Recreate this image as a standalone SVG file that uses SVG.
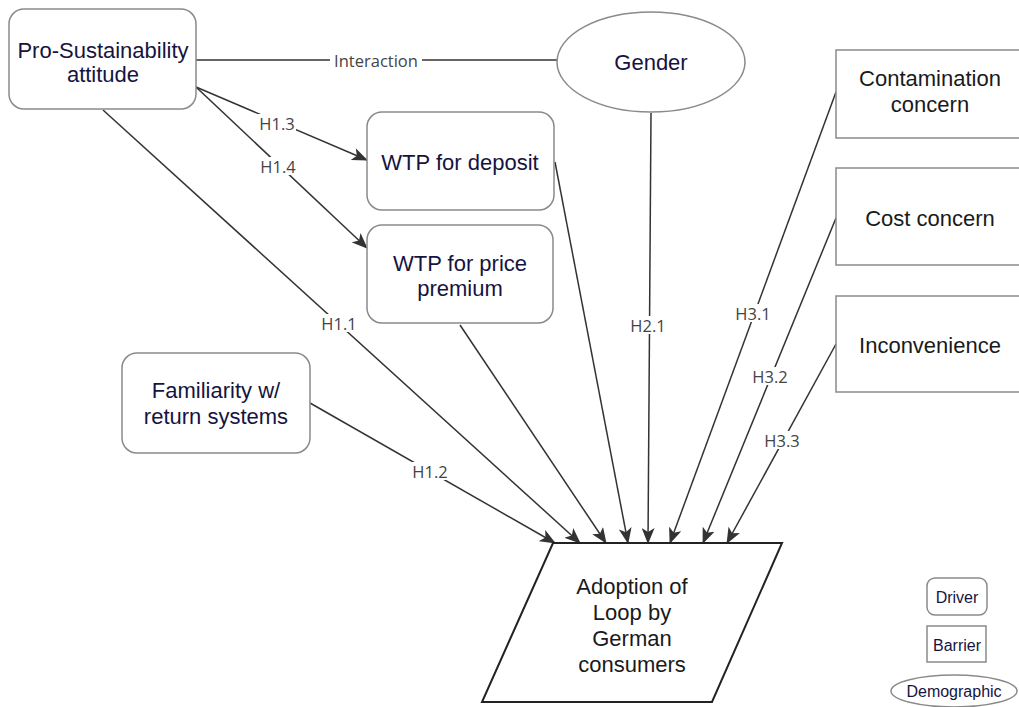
<svg xmlns="http://www.w3.org/2000/svg" width="1019" height="707" viewBox="0 0 1019 707">
<style>
.drv{fill:#fff;stroke:#8a8a8a;stroke-width:1.5}
.bar{fill:#fff;stroke:#8a8a8a;stroke-width:1.5}
.t{font-family:"Liberation Sans",Arial,sans-serif;font-size:22px;text-anchor:middle;dominant-baseline:central}
.nv{fill:#16143f}
.bk{fill:#1a1a1a}
.lg{font-family:"Liberation Sans",Arial,sans-serif;font-size:16px;text-anchor:middle;dominant-baseline:central;fill:#16143f}
.e{fill:none;stroke:#333;stroke-width:1.5}
.a{marker-end:url(#arr)}
.lb{font-family:"Open Sans",sans-serif;font-size:16.5px;fill:#444;text-anchor:middle;dominant-baseline:central}
.lbg{fill:#fff}
</style>
<defs>
<marker id="arr" markerUnits="userSpaceOnUse" viewBox="0 0 16 13" markerWidth="16" markerHeight="13" refX="15" refY="6.5" orient="auto">
<path d="M0,0 L16,6.5 L0,13 L4,6.5 Z" fill="#333"/>
</marker>
</defs>
<rect width="1019" height="707" fill="#fff"/>

<g id="connectors">
<line class="e" x1="196" y1="60" x2="557" y2="60"/>
<line class="e a" x1="196" y1="87" x2="367" y2="160"/>
<line class="e a" x1="196" y1="87" x2="367" y2="248"/>
<line class="e a" x1="103" y1="110" x2="580" y2="543"/>
<line class="e a" x1="310" y1="403" x2="555" y2="543"/>
<line class="e a" x1="460" y1="325" x2="606" y2="543"/>
<line class="e a" x1="555" y1="162" x2="628" y2="543"/>
<line class="e a" x1="651" y1="113" x2="648" y2="543"/>
<line class="e a" x1="836" y1="92" x2="670" y2="543"/>
<line class="e a" x1="836" y1="218" x2="703" y2="543"/>
<line class="e a" x1="836" y1="344" x2="727" y2="543"/>
<rect class="lbg" x="330" y="51" width="92" height="18"/>
<text class="lb" x="376" y="60">Interaction</text>
<rect class="lbg" x="258" y="114" width="38" height="18"/>
<text class="lb" x="277" y="123">H1.3</text>
<rect class="lbg" x="259" y="157" width="38" height="18"/>
<text class="lb" x="278" y="166">H1.4</text>
<rect class="lbg" x="320" y="314" width="38" height="18"/>
<text class="lb" x="339" y="323">H1.1</text>
<rect class="lbg" x="411" y="462" width="38" height="18"/>
<text class="lb" x="430" y="471">H1.2</text>
<rect class="lbg" x="629" y="316" width="38" height="18"/>
<text class="lb" x="648" y="325">H2.1</text>
<rect class="lbg" x="734" y="304" width="38" height="18"/>
<text class="lb" x="753" y="313">H3.1</text>
<rect class="lbg" x="751" y="367" width="38" height="18"/>
<text class="lb" x="770" y="376">H3.2</text>
<rect class="lbg" x="763" y="431" width="38" height="18"/>
<text class="lb" x="782" y="440">H3.3</text>
</g>

<g id="pro-sustainability">
<rect class="drv" x="9" y="9" width="187" height="100" rx="15"/>
<text class="t nv" x="103" y="50">Pro-Sustainability</text>
<text class="t nv" x="103" y="74">attitude</text>
</g>

<g id="gender">
<ellipse class="drv" cx="651" cy="62" rx="94" ry="50"/>
<text class="t nv" x="651" y="62">Gender</text>
</g>

<g id="wtp-deposit">
<rect class="drv" x="367" y="112" width="187" height="98" rx="15"/>
<text class="t nv" x="460" y="162">WTP for deposit</text>
</g>

<g id="wtp-premium">
<rect class="drv" x="367" y="225" width="186" height="98" rx="15"/>
<text class="t nv" x="460" y="263">WTP for price</text>
<text class="t nv" x="460" y="288">premium</text>
</g>

<g id="familiarity">
<rect class="drv" x="122" y="353" width="188" height="100" rx="15"/>
<text class="t nv" x="216" y="390">Familiarity w/</text>
<text class="t nv" x="216" y="416">return systems</text>
</g>

<g id="contamination">
<rect class="bar" x="836" y="50" width="190" height="88"/>
<text class="t bk" x="930" y="78">Contamination</text>
<text class="t bk" x="930" y="104">concern</text>
</g>

<g id="cost">
<rect class="bar" x="836" y="168" width="190" height="97"/>
<text class="t bk" x="930" y="218">Cost concern</text>
</g>

<g id="inconvenience">
<rect class="bar" x="836" y="296" width="190" height="96"/>
<text class="t bk" x="930" y="345">Inconvenience</text>
</g>

<g id="adoption">
<polygon points="553,543 782,543 712,702 482,702" fill="#fff" stroke="#222" stroke-width="2"/>
<text class="t bk" x="632" y="586">Adoption of</text>
<text class="t bk" x="632" y="612">Loop by</text>
<text class="t bk" x="632" y="638">German</text>
<text class="t bk" x="632" y="664">consumers</text>
</g>

<g id="legend">
<rect class="drv" x="927" y="578" width="60" height="37" rx="8"/>
<text class="lg" x="957" y="597">Driver</text>
<rect class="bar" x="927" y="626" width="59" height="36"/>
<text class="lg" x="957" y="645">Barrier</text>
<ellipse class="drv" cx="954" cy="691" rx="63" ry="16"/>
<text class="lg" x="954" y="691">Demographic</text>
</g>
</svg>
